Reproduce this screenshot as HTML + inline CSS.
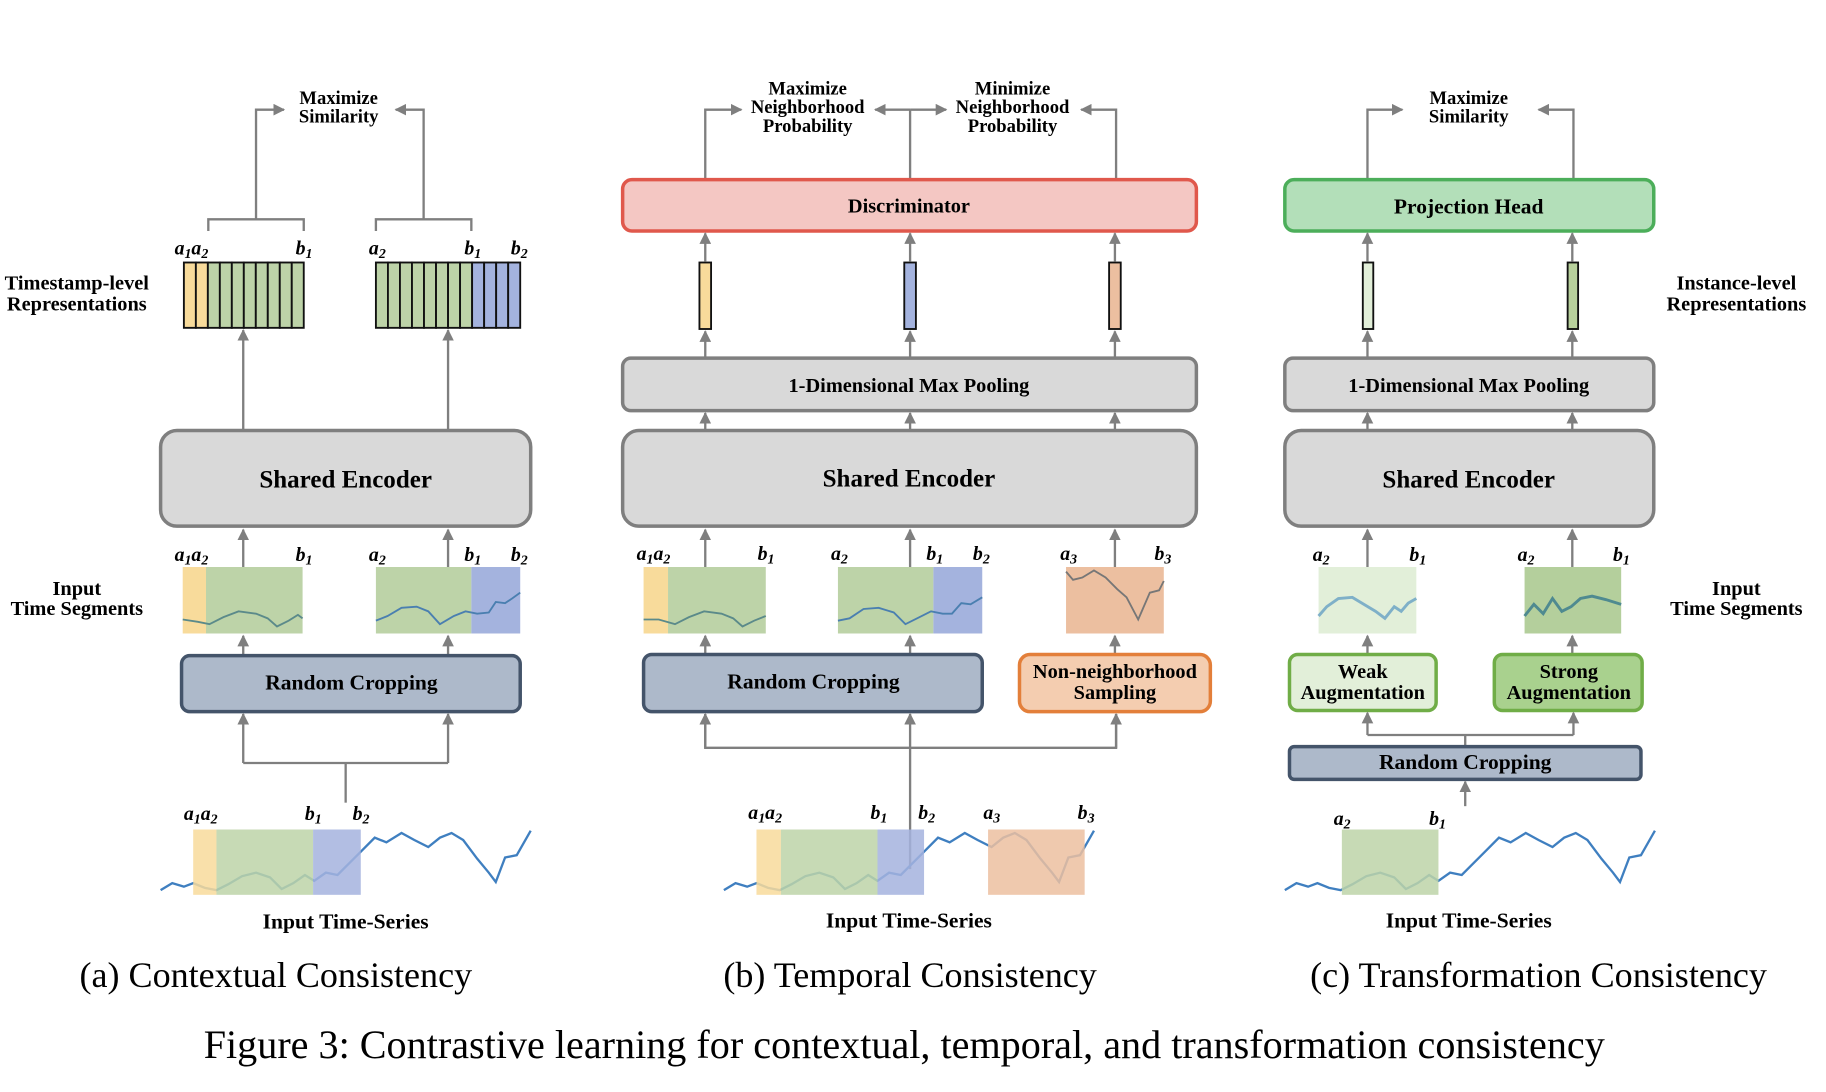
<!DOCTYPE html>
<html><head><meta charset="utf-8"><style>
html,body{margin:0;padding:0;background:#fff;}
svg{display:block;}
text{font-family:"Liberation Serif",serif;fill:#000;}
.b{font-weight:bold;}
.m{font-weight:bold;font-style:italic;font-size:17px;}
.ln{stroke:#7f7f7f;stroke-width:2;fill:none;}
.cell{stroke:#111;stroke-width:1.6;}
</style></head><body>
<svg width="1826" height="1092" viewBox="0 0 1569 936" preserveAspectRatio="none" xmlns="http://www.w3.org/2000/svg">
<defs>
<marker id="ah" viewBox="0 0 10 10" refX="9" refY="5" markerWidth="5" markerHeight="5" orient="auto"><path d="M0,0 L10,5 L0,10 z" fill="#7f7f7f"/></marker>
<polyline id="ser" points="0,763 10,757 20,760 28,757 38,761 48,763 58,758 70,751 82,748 94,752 104,762 114,757 124,750 132,755 142,748 152,750 162,740 172,730 184,718 194,722 207,714 218,720 230,726 240,718 250,714 260,720 272,736 282,748 288,756 296,735 306,733 318,712" fill="none" stroke="#3f7fc0" stroke-width="2"/>
</defs>

<!-- ========== Panel (a) ========== -->
<text class="b" font-size="16" text-anchor="middle" x="291" y="89">Maximize</text>
<text class="b" font-size="16" text-anchor="middle" x="291" y="105">Similarity</text>
<polyline class="ln" points="220,188 220,94 244,94" marker-end="url(#ah)"/>
<polyline class="ln" points="364,188 364,94 340,94" marker-end="url(#ah)"/>
<polyline class="ln" points="179,198 179,188 261,188 261,198"/>
<polyline class="ln" points="323,198 323,188 405,188 405,198"/>
<text class="m" x="150" y="218">a<tspan font-size="12" dy="3">1</tspan><tspan dy="-3">a</tspan><tspan font-size="12" dy="3">2</tspan></text>
<text class="m" x="254" y="218">b<tspan font-size="12" dy="3">1</tspan></text>
<text class="m" x="317" y="218">a<tspan font-size="12" dy="3">2</tspan></text>
<text class="m" x="399" y="218">b<tspan font-size="12" dy="3">1</tspan></text>
<text class="m" x="439" y="218">b<tspan font-size="12" dy="3">2</tspan></text>
<g class="cell">
<rect x="158" y="225" width="10.3" height="56" fill="#f8db9b"/><rect x="168.3" y="225" width="10.3" height="56" fill="#f8db9b"/>
<rect x="178.6" y="225" width="10.3" height="56" fill="#bdd3a8"/><rect x="188.9" y="225" width="10.3" height="56" fill="#bdd3a8"/>
<rect x="199.2" y="225" width="10.3" height="56" fill="#bdd3a8"/><rect x="209.5" y="225" width="10.3" height="56" fill="#bdd3a8"/>
<rect x="219.8" y="225" width="10.3" height="56" fill="#bdd3a8"/><rect x="230.1" y="225" width="10.3" height="56" fill="#bdd3a8"/>
<rect x="240.4" y="225" width="10.3" height="56" fill="#bdd3a8"/><rect x="250.7" y="225" width="10.3" height="56" fill="#bdd3a8"/>
</g>
<g class="cell">
<rect x="323" y="225" width="10.33" height="56" fill="#bdd3a8"/><rect x="333.33" y="225" width="10.33" height="56" fill="#bdd3a8"/>
<rect x="343.66" y="225" width="10.33" height="56" fill="#bdd3a8"/><rect x="354" y="225" width="10.33" height="56" fill="#bdd3a8"/>
<rect x="364.33" y="225" width="10.33" height="56" fill="#bdd3a8"/><rect x="374.66" y="225" width="10.33" height="56" fill="#bdd3a8"/>
<rect x="385" y="225" width="10.33" height="56" fill="#bdd3a8"/><rect x="395.33" y="225" width="10.33" height="56" fill="#bdd3a8"/>
<rect x="405.66" y="225" width="10.33" height="56" fill="#a4b3de"/><rect x="416" y="225" width="10.33" height="56" fill="#a4b3de"/>
<rect x="426.33" y="225" width="10.33" height="56" fill="#a4b3de"/><rect x="436.66" y="225" width="10.34" height="56" fill="#a4b3de"/>
</g>
<text class="b" font-size="17.5" text-anchor="middle" x="66" y="248">Timestamp-level</text>
<text class="b" font-size="17.5" text-anchor="middle" x="66" y="266">Representations</text>
<line class="ln" x1="209" y1="368" x2="209" y2="283" marker-end="url(#ah)"/>
<line class="ln" x1="385" y1="368" x2="385" y2="283" marker-end="url(#ah)"/>
<rect x="138" y="369" width="318" height="82" rx="14" fill="#d9d9d9" stroke="#7f7f7f" stroke-width="3"/>
<text class="b" font-size="21.5" text-anchor="middle" x="297" y="418">Shared Encoder</text>
<line class="ln" x1="209" y1="486" x2="209" y2="454" marker-end="url(#ah)"/>
<line class="ln" x1="385" y1="486" x2="385" y2="454" marker-end="url(#ah)"/>
<text class="m" x="150" y="481">a<tspan font-size="12" dy="3">1</tspan><tspan dy="-3">a</tspan><tspan font-size="12" dy="3">2</tspan></text>
<text class="m" x="254" y="481">b<tspan font-size="12" dy="3">1</tspan></text>
<text class="m" x="317" y="481">a<tspan font-size="12" dy="3">2</tspan></text>
<text class="m" x="399" y="481">b<tspan font-size="12" dy="3">1</tspan></text>
<text class="m" x="439" y="481">b<tspan font-size="12" dy="3">2</tspan></text>
<rect x="157" y="486" width="20" height="57" fill="#f8db9b"/><rect x="177" y="486" width="83" height="57" fill="#bdd3a8"/>
<path d="M157,531 L170,533 L180,535 L192,529 L205,524 L220,526 L230,530 L238,537 L248,532 L256,527 L260,530" fill="none" stroke="#5b8a8a" stroke-width="1.6"/>
<rect x="323" y="486" width="82" height="57" fill="#bdd3a8"/><rect x="405" y="486" width="42" height="57" fill="#a4b3de"/>
<path d="M323,532 L333,528 L345,521 L358,520 L368,524 L378,535 L390,528 L400,524 L410,526 L420,525 L426,516 L434,517 L440,513 L447,508" fill="none" stroke="#4a7fb0" stroke-width="1.6"/>
<text class="b" font-size="17.5" text-anchor="middle" x="66" y="510">Input</text>
<text class="b" font-size="17.5" text-anchor="middle" x="66" y="527">Time Segments</text>
<line class="ln" x1="209" y1="561" x2="209" y2="545" marker-end="url(#ah)"/>
<line class="ln" x1="385" y1="561" x2="385" y2="545" marker-end="url(#ah)"/>
<rect x="156" y="562" width="291" height="48" rx="7" fill="#adb9ca" stroke="#44546a" stroke-width="3"/>
<text class="b" font-size="18.5" text-anchor="middle" x="302" y="591">Random Cropping</text>
<line class="ln" x1="297" y1="688" x2="297" y2="654"/>
<polyline class="ln" points="209,654 385,654"/>
<line class="ln" x1="209" y1="654" x2="209" y2="612" marker-end="url(#ah)"/>
<line class="ln" x1="385" y1="654" x2="385" y2="612" marker-end="url(#ah)"/>
<text class="m" x="158" y="703">a<tspan font-size="12" dy="3">1</tspan><tspan dy="-3">a</tspan><tspan font-size="12" dy="3">2</tspan></text>
<text class="m" x="262" y="703">b<tspan font-size="12" dy="3">1</tspan></text>
<text class="m" x="303" y="703">b<tspan font-size="12" dy="3">2</tspan></text>
<use href="#ser" x="138" y="0"/>
<rect x="166" y="711" width="20" height="56" fill="#f8db9b" opacity="0.85"/>
<rect x="186" y="711" width="83" height="56" fill="#bdd3a8" opacity="0.85"/>
<rect x="269" y="711" width="41" height="56" fill="#a4b3de" opacity="0.85"/>
<text class="b" font-size="18.5" text-anchor="middle" x="297" y="796">Input Time-Series</text>
<text font-size="31" text-anchor="middle" x="237" y="846">(a) Contextual Consistency</text>

<!-- ========== Panel (b) ========== -->
<text class="b" font-size="16" text-anchor="middle" x="694" y="81">Maximize</text>
<text class="b" font-size="16" text-anchor="middle" x="694" y="97">Neighborhood</text>
<text class="b" font-size="16" text-anchor="middle" x="694" y="113">Probability</text>
<text class="b" font-size="16" text-anchor="middle" x="870" y="81">Minimize</text>
<text class="b" font-size="16" text-anchor="middle" x="870" y="97">Neighborhood</text>
<text class="b" font-size="16" text-anchor="middle" x="870" y="113">Probability</text>
<polyline class="ln" points="606,153 606,94 637,94" marker-end="url(#ah)"/>
<line class="ln" x1="782" y1="153" x2="782" y2="94"/>
<line class="ln" x1="782" y1="94" x2="752" y2="94" marker-end="url(#ah)"/>
<line class="ln" x1="782" y1="94" x2="813" y2="94" marker-end="url(#ah)"/>
<polyline class="ln" points="959,153 959,94 929,94" marker-end="url(#ah)"/>
<rect x="535" y="154" width="493" height="44" rx="8" fill="#f4c7c3" stroke="#e0584c" stroke-width="3"/>
<text class="b" font-size="17.5" text-anchor="middle" x="781" y="182">Discriminator</text>
<line class="ln" x1="606" y1="224" x2="606" y2="200" marker-end="url(#ah)"/>
<line class="ln" x1="782" y1="224" x2="782" y2="200" marker-end="url(#ah)"/>
<line class="ln" x1="958" y1="224" x2="958" y2="200" marker-end="url(#ah)"/>
<rect x="601" y="225" width="10" height="57" fill="#f8db9b" stroke="#111" stroke-width="1.6"/>
<rect x="777" y="225" width="10" height="57" fill="#a4b3de" stroke="#111" stroke-width="1.6"/>
<rect x="953" y="225" width="10" height="57" fill="#ecbfa0" stroke="#111" stroke-width="1.6"/>
<line class="ln" x1="606" y1="306" x2="606" y2="284" marker-end="url(#ah)"/>
<line class="ln" x1="782" y1="306" x2="782" y2="284" marker-end="url(#ah)"/>
<line class="ln" x1="958" y1="306" x2="958" y2="284" marker-end="url(#ah)"/>
<rect x="535" y="307" width="493" height="45" rx="7" fill="#d9d9d9" stroke="#7f7f7f" stroke-width="3"/>
<text class="b" font-size="17.5" text-anchor="middle" x="781" y="336">1-Dimensional Max Pooling</text>
<line class="ln" x1="606" y1="368" x2="606" y2="354" marker-end="url(#ah)"/>
<line class="ln" x1="782" y1="368" x2="782" y2="354" marker-end="url(#ah)"/>
<line class="ln" x1="958" y1="368" x2="958" y2="354" marker-end="url(#ah)"/>
<rect x="535" y="369" width="493" height="82" rx="14" fill="#d9d9d9" stroke="#7f7f7f" stroke-width="3"/>
<text class="b" font-size="21.5" text-anchor="middle" x="781" y="417">Shared Encoder</text>
<line class="ln" x1="606" y1="486" x2="606" y2="454" marker-end="url(#ah)"/>
<line class="ln" x1="782" y1="486" x2="782" y2="454" marker-end="url(#ah)"/>
<line class="ln" x1="958" y1="486" x2="958" y2="454" marker-end="url(#ah)"/>
<text class="m" x="547" y="480">a<tspan font-size="12" dy="3">1</tspan><tspan dy="-3">a</tspan><tspan font-size="12" dy="3">2</tspan></text>
<text class="m" x="651" y="480">b<tspan font-size="12" dy="3">1</tspan></text>
<text class="m" x="714" y="480">a<tspan font-size="12" dy="3">2</tspan></text>
<text class="m" x="796" y="480">b<tspan font-size="12" dy="3">1</tspan></text>
<text class="m" x="836" y="480">b<tspan font-size="12" dy="3">2</tspan></text>
<text class="m" x="911" y="480">a<tspan font-size="12" dy="3">3</tspan></text>
<text class="m" x="992" y="480">b<tspan font-size="12" dy="3">3</tspan></text>
<rect x="553" y="486" width="21" height="57" fill="#f8db9b"/><rect x="574" y="486" width="84" height="57" fill="#bdd3a8"/>
<path d="M553,531 L566,531 L580,535 L592,529 L605,524 L620,526 L630,530 L638,537 L648,532 L658,528" fill="none" stroke="#5b8a8a" stroke-width="1.6"/>
<rect x="720" y="486" width="82" height="57" fill="#bdd3a8"/><rect x="802" y="486" width="42" height="57" fill="#a4b3de"/>
<path d="M720,532 L730,530 L742,522 L755,521 L768,525 L778,535 L790,529 L800,524 L810,526 L818,526 L826,517 L834,518 L844,512" fill="none" stroke="#4a7fb0" stroke-width="1.6"/>
<rect x="916" y="486" width="84" height="57" fill="#ecbfa0"/>
<path d="M916,490 L922,497 L930,495 L940,489 L950,495 L960,505 L968,512 L978,531 L988,508 L996,506 L1000,498" fill="none" stroke="#777" stroke-width="1.6"/>
<line class="ln" x1="606" y1="560" x2="606" y2="545" marker-end="url(#ah)"/>
<line class="ln" x1="782" y1="560" x2="782" y2="545" marker-end="url(#ah)"/>
<line class="ln" x1="958" y1="560" x2="958" y2="545" marker-end="url(#ah)"/>
<rect x="553" y="561" width="291" height="49" rx="7" fill="#adb9ca" stroke="#44546a" stroke-width="3"/>
<text class="b" font-size="18.5" text-anchor="middle" x="699" y="590">Random Cropping</text>
<rect x="876" y="561" width="164" height="49" rx="9" fill="#f4cdb0" stroke="#e37f3a" stroke-width="3"/>
<text class="b" font-size="17.5" text-anchor="middle" x="958" y="581">Non-neighborhood</text>
<text class="b" font-size="17.5" text-anchor="middle" x="958" y="599">Sampling</text>
<line class="ln" x1="782" y1="745" x2="782" y2="612" marker-end="url(#ah)"/>
<polyline class="ln" points="606,612 606,641 959,641 959,612"/>
<line class="ln" x1="606" y1="641" x2="606" y2="612" marker-end="url(#ah)"/>
<line class="ln" x1="959" y1="641" x2="959" y2="612" marker-end="url(#ah)"/>
<text class="m" x="643" y="702">a<tspan font-size="12" dy="3">1</tspan><tspan dy="-3">a</tspan><tspan font-size="12" dy="3">2</tspan></text>
<text class="m" x="748" y="702">b<tspan font-size="12" dy="3">1</tspan></text>
<text class="m" x="789" y="702">b<tspan font-size="12" dy="3">2</tspan></text>
<text class="m" x="845" y="702">a<tspan font-size="12" dy="3">3</tspan></text>
<text class="m" x="926" y="702">b<tspan font-size="12" dy="3">3</tspan></text>
<use href="#ser" x="622" y="0"/>
<rect x="650" y="711" width="21" height="56" fill="#f8db9b" opacity="0.85"/>
<rect x="671" y="711" width="83" height="56" fill="#bdd3a8" opacity="0.85"/>
<rect x="754" y="711" width="40" height="56" fill="#a4b3de" opacity="0.85"/>
<rect x="849" y="711" width="83" height="56" fill="#ecbfa0" opacity="0.85"/>
<text class="b" font-size="18.5" text-anchor="middle" x="781" y="795">Input Time-Series</text>
<text font-size="31" text-anchor="middle" x="782" y="846">(b) Temporal Consistency</text>

<!-- ========== Panel (c) ========== -->
<text class="b" font-size="16" text-anchor="middle" x="1262" y="89">Maximize</text>
<text class="b" font-size="16" text-anchor="middle" x="1262" y="105">Similarity</text>
<polyline class="ln" points="1175,153 1175,94 1205,94" marker-end="url(#ah)"/>
<polyline class="ln" points="1352,153 1352,94 1322,94" marker-end="url(#ah)"/>
<rect x="1104" y="154" width="317" height="44" rx="8" fill="#b3dfb9" stroke="#4cae5a" stroke-width="3"/>
<text class="b" font-size="18.5" text-anchor="middle" x="1262" y="183">Projection Head</text>
<line class="ln" x1="1175" y1="224" x2="1175" y2="200" marker-end="url(#ah)"/>
<line class="ln" x1="1351" y1="224" x2="1351" y2="200" marker-end="url(#ah)"/>
<rect x="1171" y="225" width="9" height="57" fill="#e2efd9" stroke="#111" stroke-width="1.6"/>
<rect x="1347" y="225" width="9" height="57" fill="#b8d19c" stroke="#111" stroke-width="1.6"/>
<line class="ln" x1="1175" y1="306" x2="1175" y2="284" marker-end="url(#ah)"/>
<line class="ln" x1="1351" y1="306" x2="1351" y2="284" marker-end="url(#ah)"/>
<text class="b" font-size="17.5" text-anchor="middle" x="1492" y="248">Instance-level</text>
<text class="b" font-size="17.5" text-anchor="middle" x="1492" y="266">Representations</text>
<rect x="1104" y="307" width="317" height="45" rx="7" fill="#d9d9d9" stroke="#7f7f7f" stroke-width="3"/>
<text class="b" font-size="17.5" text-anchor="middle" x="1262" y="336">1-Dimensional Max Pooling</text>
<line class="ln" x1="1175" y1="368" x2="1175" y2="354" marker-end="url(#ah)"/>
<line class="ln" x1="1351" y1="368" x2="1351" y2="354" marker-end="url(#ah)"/>
<rect x="1104" y="369" width="317" height="82" rx="14" fill="#d9d9d9" stroke="#7f7f7f" stroke-width="3"/>
<text class="b" font-size="21.5" text-anchor="middle" x="1262" y="418">Shared Encoder</text>
<line class="ln" x1="1175" y1="486" x2="1175" y2="454" marker-end="url(#ah)"/>
<line class="ln" x1="1351" y1="486" x2="1351" y2="454" marker-end="url(#ah)"/>
<text class="m" x="1128" y="481">a<tspan font-size="12" dy="3">2</tspan></text>
<text class="m" x="1211" y="481">b<tspan font-size="12" dy="3">1</tspan></text>
<text class="m" x="1304" y="481">a<tspan font-size="12" dy="3">2</tspan></text>
<text class="m" x="1386" y="481">b<tspan font-size="12" dy="3">1</tspan></text>
<rect x="1133" y="486" width="84" height="57" fill="#e2efd9"/>
<path d="M1133,528 L1140,520 L1150,513 L1162,512 L1172,518 L1182,524 L1190,530 L1198,520 L1204,524 L1210,517 L1217,513" fill="none" stroke="#7fb0c8" stroke-width="2.5"/>
<rect x="1310" y="486" width="83" height="57" fill="#b4cf9c"/>
<path d="M1310,528 L1318,518 L1326,526 L1334,513 L1342,524 L1350,520 L1358,513 L1368,511 L1380,514 L1393,518" fill="none" stroke="#4f8a90" stroke-width="2.5"/>
<text class="b" font-size="17.5" text-anchor="middle" x="1492" y="510">Input</text>
<text class="b" font-size="17.5" text-anchor="middle" x="1492" y="527">Time Segments</text>
<line class="ln" x1="1175" y1="560" x2="1175" y2="545" marker-end="url(#ah)"/>
<line class="ln" x1="1351" y1="560" x2="1351" y2="545" marker-end="url(#ah)"/>
<rect x="1108" y="561" width="126" height="48" rx="7" fill="#e2efd9" stroke="#70ad47" stroke-width="3"/>
<text class="b" font-size="17.5" text-anchor="middle" x="1171" y="581">Weak</text>
<text class="b" font-size="17.5" text-anchor="middle" x="1171" y="599">Augmentation</text>
<rect x="1284" y="561" width="127" height="48" rx="7" fill="#a9d18e" stroke="#70ad47" stroke-width="3"/>
<text class="b" font-size="17.5" text-anchor="middle" x="1348" y="581">Strong</text>
<text class="b" font-size="17.5" text-anchor="middle" x="1348" y="599">Augmentation</text>
<line class="ln" x1="1259" y1="640" x2="1259" y2="630"/>
<line class="ln" x1="1175" y1="630" x2="1352" y2="630"/>
<line class="ln" x1="1175" y1="630" x2="1175" y2="611" marker-end="url(#ah)"/>
<line class="ln" x1="1352" y1="630" x2="1352" y2="611" marker-end="url(#ah)"/>
<rect x="1108" y="640" width="302" height="28" rx="4" fill="#adb9ca" stroke="#44546a" stroke-width="3"/>
<text class="b" font-size="18.5" text-anchor="middle" x="1259" y="659">Random Cropping</text>
<line class="ln" x1="1259" y1="691" x2="1259" y2="670" marker-end="url(#ah)"/>
<text class="m" x="1146" y="707">a<tspan font-size="12" dy="3">2</tspan></text>
<text class="m" x="1228" y="707">b<tspan font-size="12" dy="3">1</tspan></text>
<use href="#ser" x="1104" y="0"/>
<rect x="1153" y="711" width="83" height="56" fill="#bdd3a8" opacity="0.85"/>
<text class="b" font-size="18.5" text-anchor="middle" x="1262" y="795">Input Time-Series</text>
<text font-size="31" text-anchor="middle" x="1322" y="846">(c) Transformation Consistency</text>

<text font-size="34.5" text-anchor="middle" x="777" y="907">Figure 3: Contrastive learning for contextual, temporal, and transformation consistency</text>
</svg>
</body></html>
